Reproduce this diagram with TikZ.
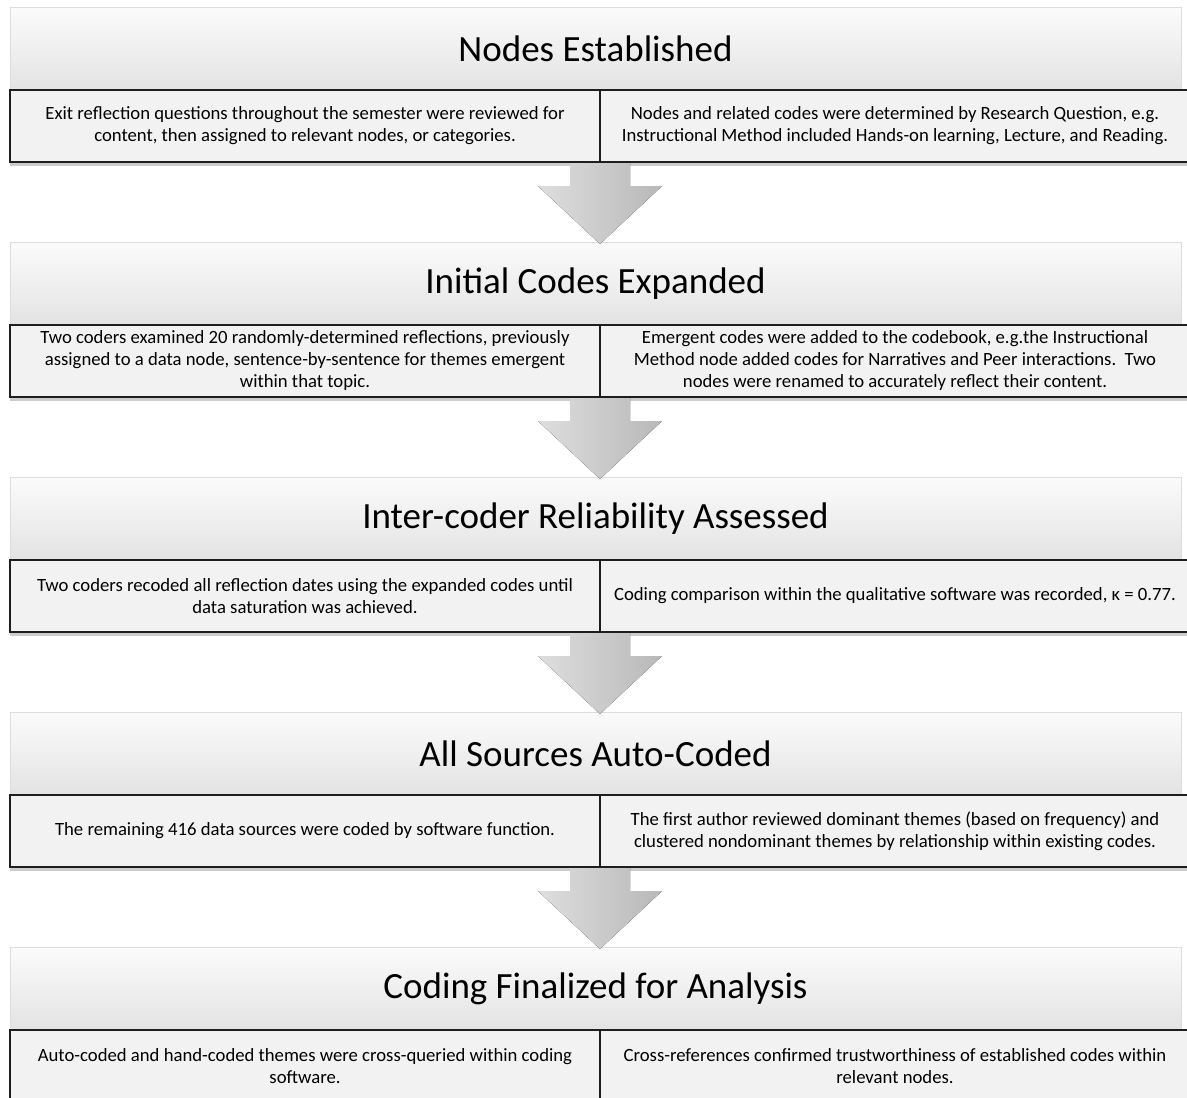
\documentclass[tikz,border=0pt]{standalone}
\usepackage{fontspec}
\setmainfont{Carlito}
\usetikzlibrary{calc,shadows}
\definecolor{hdtop}{HTML}{FBFBFB}
\definecolor{hdbot}{HTML}{E3E3E3}
\definecolor{hdline}{HTML}{DDDDDD}
\definecolor{rowfill}{HTML}{F2F2F2}
\definecolor{rowline}{HTML}{1E1E1E}
\definecolor{arrL}{HTML}{DEDEDE}
\definecolor{arrR}{HTML}{B8B8B8}
\newcommand\flowarr[2]{%
  \fill[flowarrow] ($(#1.south east)+(-30,1.2)$) -- ($(#1.south east)+(-30,24)$)
    -- ($(#1.south east)+(-62,24)$) -- ($(#1.south east |- #2.north)+(0,2)$)
    -- ($(#1.south east)+(62,24)$) -- ($(#1.south east)+(30,24)$)
    -- ($(#1.south east)+(30,1.2)$) -- cycle;}
\begin{document}
\begin{tikzpicture}[x=1pt,y=-1pt,
  header/.style={rectangle, minimum width=1171pt, minimum height=83pt, inner sep=0pt, outer sep=0pt,
    top color=hdtop, bottom color=hdbot, draw=hdline, line width=1pt,
    font=\fontsize{37}{44}\selectfont},
  txtbox/.style={rectangle, minimum width=590pt, minimum height=72pt, inner sep=0pt, outer sep=0pt,
    fill=rowfill, draw=rowline, line width=2.4pt, align=center,
    font=\fontsize{18.7}{22}\selectfont,
    drop shadow={shadow xshift=0pt, shadow yshift=-3.5pt, opacity=0.4}},
  flowarrow/.style={left color=arrL, right color=arrR}]
\clip (0,0) rectangle (1187,1098);
\fill[white] (0,0) rectangle (1187,1098);
% headers
\node[header] (H0) at (595.5,48.5) {Nodes Established};
\node[header] (H1) at (595.5,283.5) {Initial Codes Expanded};
\node[header] (H2) at (595.5,518.5) {Inter-coder Reliability Assessed};
\node[header] (H3) at (595.5,753.5) {All Sources Auto-Coded};
\node[header] (H4) at (595.5,988.5) {Coding Finalized for Analysis};
% text rows
\node[txtbox] (L0) at (305,126) {Exit reflection questions throughout the semester were reviewed for\\content, then assigned to relevant nodes, or categories.};
\node[txtbox] (R0) at (895,126) {Nodes and related codes were determined by Research Question, e.g.\\Instructional Method included Hands-on learning, Lecture, and Reading.};
\node[txtbox] (L1) at (305,361) {Two coders examined 20 randomly-determined reflections, previously\\assigned to a data node, sentence-by-sentence for themes emergent\\within that topic.};
\node[txtbox] (R1) at (895,361) {Emergent codes were added to the codebook, e.g.the Instructional\\Method node added codes for Narratives and Peer interactions.\ \ Two\\nodes were renamed to accurately reflect their content.};
\node[txtbox] (L2) at (305,596) {Two coders recoded all reflection dates using the expanded codes until\\data saturation was achieved.};
\node[txtbox] (R2) at (895,596) {Coding comparison within the qualitative software was recorded, κ = 0.77.};
\node[txtbox] (L3) at (305,831) {The remaining 416 data sources were coded by software function.};
\node[txtbox] (R3) at (895,831) {The first author reviewed dominant themes (based on frequency) and\\clustered nondominant themes by relationship within existing codes.};
\node[txtbox] (L4) at (305,1066) {Auto-coded and hand-coded themes were cross-queried within coding\\software.};
\node[txtbox] (R4) at (895,1066) {Cross-references confirmed trustworthiness of established codes within\\relevant nodes.};
% arrows
\flowarr{L0}{H1}
\flowarr{L1}{H2}
\flowarr{L2}{H3}
\flowarr{L3}{H4}
\end{tikzpicture}
\end{document}
